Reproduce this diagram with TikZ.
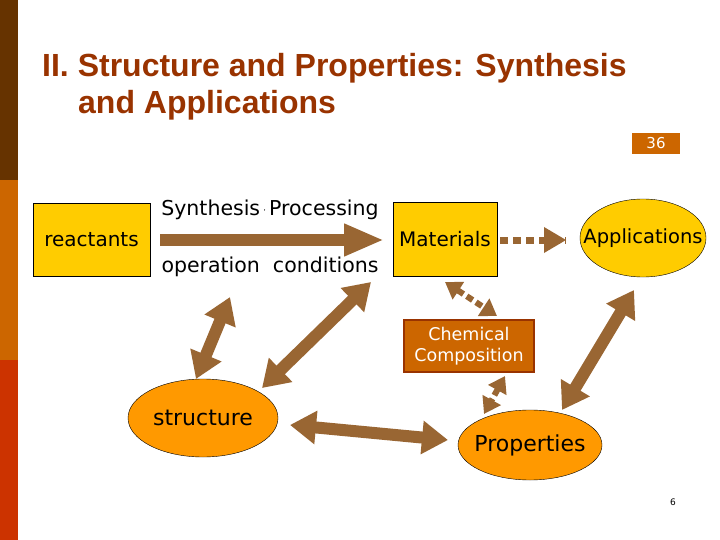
\documentclass[tikz,border=0pt]{standalone}
\usepackage{fontspec}
\setmainfont{DejaVu Sans}
\newfontfamily\titlefont{Liberation Sans}
\usetikzlibrary{arrows.meta,shapes.geometric}
\definecolor{barA}{HTML}{663300}
\definecolor{barB}{HTML}{CC6600}
\definecolor{barC}{HTML}{CC3300}
\definecolor{ttl}{HTML}{993300}
\definecolor{yel}{HTML}{FFCC00}
\definecolor{org}{HTML}{FF9900}
\definecolor{arr}{HTML}{996633}
\tikzset{
  box/.style={draw=black,fill=yel,inner sep=0pt,font=\fontsize{20}{22}\selectfont},
  ell/.style={ellipse,draw=black,inner sep=0pt,font=\fontsize{19.5}{22}\selectfont},
  lbl/.style={font=\fontsize{20.5}{23}\selectfont,inner sep=0pt},
  fat/.style={arr,line width=12pt,{Triangle[length=26pt,width=32pt]}-{Triangle[length=26pt,width=32pt]}},
  fatone/.style={arr,line width=12pt,-{Triangle[length=40pt,width=30pt]}},
  dot/.style={arr,line width=7pt,dash pattern=on 8pt off 5pt},
}
\begin{document}
\begin{tikzpicture}[x=1pt,y=-1pt]
\useasboundingbox (0,0) rectangle (720,540);
\fill[white] (0,0) rectangle (720,540);
\fill[barA] (0,0) rectangle (18,180);
\fill[barB] (0,180) rectangle (18,360);
\fill[barC] (0,360) rectangle (18,540);
\node[anchor=base west,text=ttl,font=\titlefont\bfseries\fontsize{32}{36}\selectfont,inner sep=0pt] (t1) at (42,77) {II. Structure and Properties: Synthesis};
\node[anchor=base west,text=ttl,font=\titlefont\bfseries\fontsize{32}{36}\selectfont,inner sep=0pt] (t2) at (78,114) {and Applications};
\node[fill=barB,text=white,minimum width=48pt,minimum height=21pt,inner sep=0pt,font=\fontsize{15}{16}\selectfont] (num) at (656,143.5) {36};
\node[box,minimum width=117pt,minimum height=73pt] (rea) at (91.5,239.5) {reactants};
\node[box,minimum width=104pt,minimum height=74pt] (mat) at (445,239) {Materials};
\node[ell,fill=yel,inner xsep=-15pt,minimum width=124pt,minimum height=78pt] (app) at (643,238) {Applications};
\node[draw=ttl,line width=1.2pt,fill=barB,text=white,minimum width=130pt,minimum height=52pt,inner sep=0pt,align=center,font=\fontsize{17.5}{21}\selectfont] (chem) at (469,346) {Chemical\\Composition};
\node[ell,fill=org,inner xsep=-5pt,minimum width=144pt,minimum height=70pt,font=\fontsize{22}{24}\selectfont] (prop) at (530,445) {Properties};
\node[ell,fill=org,minimum width=150pt,minimum height=78pt,font=\fontsize{22}{24}\selectfont] (str) at (203,418) {structure};
\node[lbl] (syn) at (270,210) {Synthesis\,\raisebox{0.5ex}{\scriptsize,}\,Processing};
\node[lbl] (op) at (270,267) {operation\ \ conditions};
\node[font=\fontsize{9}{10}\selectfont,inner sep=0pt] (pg) at (673,502) {6};
\coordinate (a1) at (160,240); \coordinate (a2) at (384,240);
\draw[fatone] (a1) -- (a2);
\coordinate (d1) at (500,240); \coordinate (d2) at (566,240);
\draw[dot] (d1) -- (d2);
\fill[arr] (566,240) -- ++(-22,-13) -- ++(0,26) -- cycle;
\coordinate (m1) at (445,282); \coordinate (m2) at (497,316);
\draw[dot,{Triangle[length=16pt,width=20pt]}-{Triangle[length=16pt,width=20pt]},line width=6pt,dash pattern=on 7pt off 4pt] (m1) -- (m2);
\coordinate (c1) at (505,376); \coordinate (c2) at (484,414);
\draw[dot,{Triangle[length=16pt,width=20pt]}-{Triangle[length=16pt,width=20pt]},line width=6pt,dash pattern=on 7pt off 4pt] (c1) -- (c2);
\coordinate (s1) at (290,425); \coordinate (s2) at (448,440);
\draw[fat] (s1) -- (s2);
\coordinate (v1) at (196,379); \coordinate (v2) at (230,297);
\draw[fat] (v1) -- (v2);
\coordinate (g1) at (262,388); \coordinate (g2) at (371,282);
\draw[fat] (g1) -- (g2);
\coordinate (p1) at (562,410); \coordinate (p2) at (634,290);
\draw[fat] (p1) -- (p2);
\end{tikzpicture}
\end{document}
